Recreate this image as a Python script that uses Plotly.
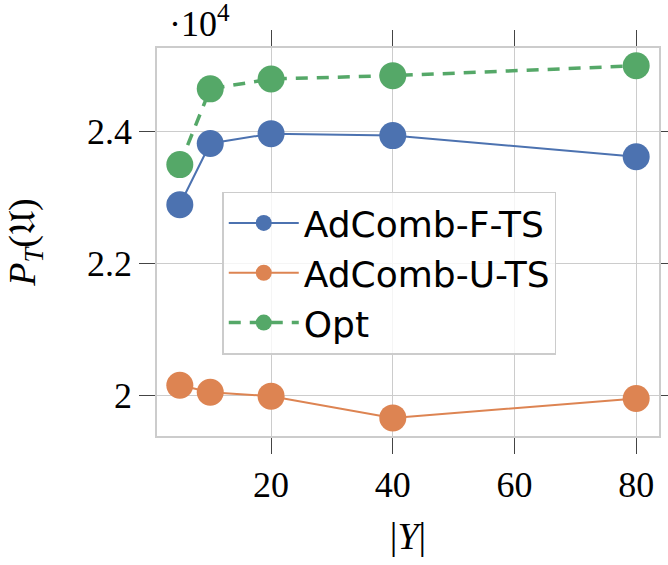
import plotly.graph_objects as go

x_vals = [5, 10, 20, 40, 80]
adcomb_f_ts = [22890, 23820, 23970, 23940, 23620]
adcomb_u_ts = [20150, 20045, 19985, 19655, 19950]
opt = [23500, 24650, 24800, 24850, 25000]

series_names = ["AdComb-F-TS", "AdComb-U-TS", "Opt"]
colors = ["#4c72b0", "#dd8452", "#55a868"]
y_tick_vals = [2.0, 2.2, 2.4]
y_tick_text = ["2", "2.2", "2.4"]
x_tick_vals = [20, 40, 60, 80]
scale = 1e4

fig = go.Figure()
for name, ys, col, dash, lw in [
    (series_names[0], adcomb_f_ts, colors[0], "solid", 2),
    (series_names[1], adcomb_u_ts, colors[1], "solid", 2),
    (series_names[2], opt, colors[2], "12px,9px", 3.5),
]:
    fig.add_trace(go.Scatter(
        x=x_vals, y=[v / scale for v in ys], name=name, mode="lines+markers",
        line=dict(color=col, width=lw, dash=dash),
        marker=dict(color=col, size=27),
    ))

serif = "Liberation Serif, DejaVu Serif, serif"
fig.update_layout(
    width=668, height=565,
    margin=dict(l=157, r=9, t=48, b=129, autoexpand=False),
    paper_bgcolor="white", plot_bgcolor="white",
    font=dict(family=serif, size=36, color="black"),
    showlegend=True,
    legend=dict(
        x=0.13, y=0.63, xanchor="left", yanchor="top",
        bgcolor="rgba(255,255,255,0.8)", bordercolor="#cccccc", borderwidth=1.5,
        font=dict(family="DejaVu Sans, sans-serif", size=36, color="black"),
        itemwidth=70, tracegroupgap=0,
    ),
    xaxis=dict(
        range=[1.25, 83.75], tickvals=x_tick_vals,
        showgrid=True, gridcolor="#cccccc", gridwidth=1.2,
        showline=True, linecolor="#cccccc", linewidth=1.5, mirror="ticks",
        ticks="outside", ticklen=16, tickcolor="#444444", tickwidth=1.2,
        tickfont=dict(family=serif, size=36),
        title=dict(text="|<i>Y</i>|", font=dict(family=serif, size=38), standoff=18),
        zeroline=False, automargin=False,
    ),
    yaxis=dict(
        range=[1.938, 2.527], tickvals=y_tick_vals, ticktext=y_tick_text,
        showgrid=True, gridcolor="#cccccc", gridwidth=1.2,
        showline=True, linecolor="#cccccc", linewidth=1.5, mirror="ticks",
        ticks="outside", ticklen=16, tickcolor="#444444", tickwidth=1.2,
        tickfont=dict(family=serif, size=36),
        title=dict(text="<i>P</i><sub><i>T</i></sub>(𝔘)", font=dict(family=serif, size=38), standoff=40),
        zeroline=False, automargin=False,
    ),
)
fig.add_annotation(
    text="·10<sup>4</sup>", xref="paper", yref="paper", x=0.0, y=1.0,
    xanchor="left", yanchor="bottom", showarrow=False,
    font=dict(family=serif, size=36, color="black"), xshift=10, yshift=2,
)
fig.write_html("out.html")
